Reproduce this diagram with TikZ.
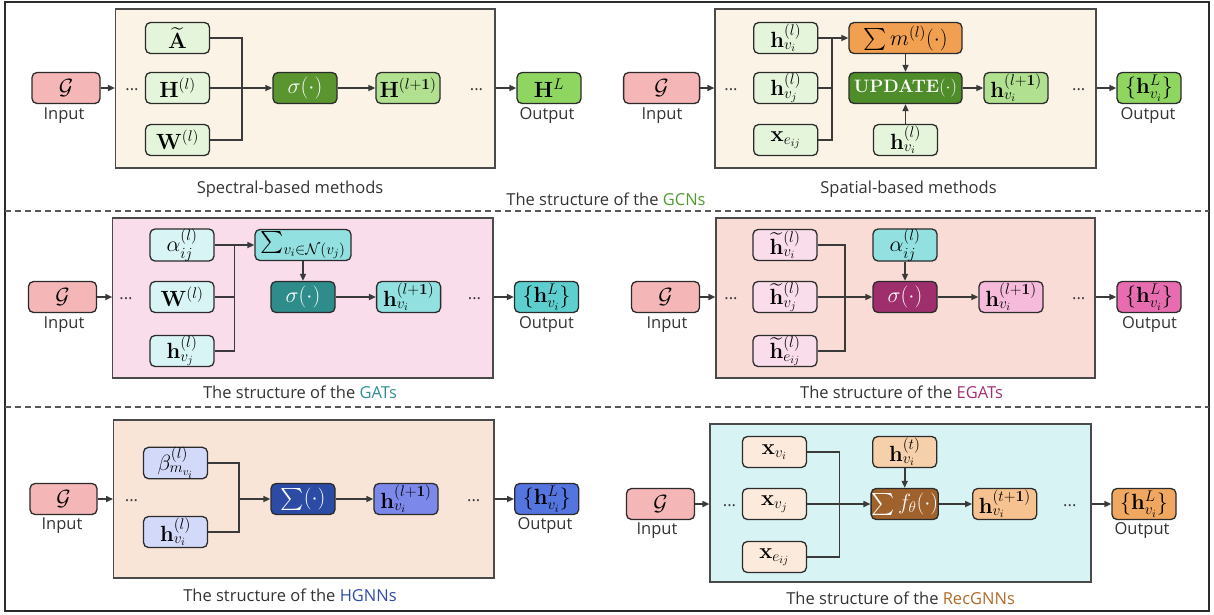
\RequirePackage{fix-cm}
\documentclass[tikz,border=0pt]{standalone}
\usepackage{amsmath,amssymb}
\usepackage[no-math]{fontspec}
\newfontfamily\labfam{Open Sans}
\usetikzlibrary{arrows.meta}
\definecolor{ndline}{HTML}{2B2B2B}
\definecolor{boxline}{HTML}{4A4A4A}
\definecolor{lnc}{HTML}{3A3A3A}
\definecolor{txt}{HTML}{333333}
\definecolor{gpink}{HTML}{F4B6B6}
% GCN
\definecolor{beige}{HTML}{FBF3E6}
\definecolor{lgreen}{HTML}{E5F5DC}
\definecolor{dgreen}{HTML}{5A9530}
\definecolor{mgreen}{HTML}{B0E090}
\definecolor{ogreen}{HTML}{8ED660}
\definecolor{orng}{HTML}{F0A050}
\definecolor{updgreen}{HTML}{4F8C2A}
\definecolor{capgreen}{HTML}{4E9A2E}
% GAT
\definecolor{gatbox}{HTML}{F9DDEA}
\definecolor{lcyan}{HTML}{D9F4F4}
\definecolor{mcyan}{HTML}{92E0E0}
\definecolor{dteal}{HTML}{2E8C8A}
\definecolor{ocyan}{HTML}{5ECFCF}
\definecolor{capteal}{HTML}{2E9090}
% EGAT
\definecolor{egatbox}{HTML}{F9DCD6}
\definecolor{lpink}{HTML}{FADDEB}
\definecolor{dmag}{HTML}{9E2F6C}
\definecolor{mpink}{HTML}{F6BADA}
\definecolor{opink}{HTML}{E86DB0}
\definecolor{capmag}{HTML}{A03070}
% HGNN
\definecolor{hgnnbox}{HTML}{F9E5D8}
\definecolor{llav}{HTML}{D3D9F8}
\definecolor{dblue}{HTML}{2B4BA5}
\definecolor{mblue}{HTML}{7C88EA}
\definecolor{oblue}{HTML}{5474E0}
\definecolor{capblue}{HTML}{2F4BAA}
% RecGNN
\definecolor{recbox}{HTML}{D8F3F3}
\definecolor{lpeach}{HTML}{FCEBDC}
\definecolor{mpeach}{HTML}{F6D0AA}
\definecolor{dbrown}{HTML}{A0622C}
\definecolor{npeach}{HTML}{F6C290}
\definecolor{opeach}{HTML}{F0A860}
\definecolor{capbrown}{HTML}{B06A25}
\newcommand\nodefs{\fontsize{22}{24}\selectfont}
\newcommand\updfs{\fontsize{18}{20}\selectfont}
\newcommand\labfs{\labfam\fontsize{16.5}{19}\selectfont}
\tikzset{
  nd/.style={draw=ndline, rounded corners=5pt, line width=1.3pt, minimum width=64pt, minimum height=31pt, inner sep=0pt, font=\nodefs},
  dk/.style={nd, text=white},
  panel/.style={draw=boxline, line width=1.1pt, inner sep=0pt},
  conn/.style={draw=lnc, line width=1.6pt},
  arr/.style={conn, -{Triangle[length=7pt,width=6pt]}},
  lbl/.style={font=\labfs, text=txt, inner sep=0pt, anchor=base},
  dts/.style={font=\labfs, text=lnc, inner sep=0pt, anchor=base},
  sep/.style={draw=lnc!85, line width=1.2pt, dash pattern=on 6pt off 4pt},
}
\begin{document}
\begin{tikzpicture}[x=1pt,y=-1pt]
\useasboundingbox (0,0) rectangle (1214,614);
\draw[draw=ndline, line width=1.5pt] (5,2) rectangle (1209,611);
\coordinate (sepAL) at (5,211); \coordinate (sepAR) at (1209,211);
\coordinate (sepBL) at (5,407); \coordinate (sepBR) at (1209,407);
\draw[sep] (sepAL) -- (sepAR);
\draw[sep] (sepBL) -- (sepBR);

% ================= Panel 1: Spectral =================
\node[panel, fill=beige, minimum width=379.5pt, minimum height=159pt] (B1) at (305.25,88.5) {};
\node[nd, fill=gpink, minimum width=68pt] (G1) at (66,88) {$\mathcal{G}$};
\node[nd, fill=lgreen] (A1) at (177.5,38) {$\widetilde{\mathbf{A}}$};
\node[nd, fill=lgreen] (H1) at (177.5,88) {$\mathbf{H}^{(l)}$};
\node[nd, fill=lgreen] (W1) at (177.5,140) {$\mathbf{W}^{(l)}$};
\coordinate (J1) at (242,88);
\node[dk, fill=dgreen] (S1) at (305,88) {$\sigma(\cdot)$};
\node[nd, fill=mgreen] (N1) at (408,88) {$\mathbf{H}^{(l+\mathbf{1})}$};
\node[nd, fill=ogreen] (O1) at (549,88) {$\mathbf{H}^{L}$};
\node[dts] (d1a) at (132,90.5) {...};
\node[dts] (d1b) at (476.5,90.5) {...};
\draw[arr] (G1.east) -- (G1.east -| B1.west);
\draw[conn] (A1.east) -| (J1);
\draw[conn] (W1.east) -| (J1);
\draw[arr] (H1.east) -- (S1.west);
\draw[arr] (S1.east) -- (N1.west);
\draw[arr] (O1.west -| B1.east) -- (O1.west);
\node[lbl] (in1) at (64,119.5) {Input};
\node[lbl] (out1) at (547,119.5) {Output};
\node[lbl] (cap1) at (290,193) {Spectral-based methods};

% ================= Panel 2: Spatial =================
\node[panel, fill=beige, minimum width=381pt, minimum height=159pt] (B2) at (905.5,88.5) {};
\node[nd, fill=gpink, minimum width=76pt] (G2) at (661.6,88) {$\mathcal{G}$};
\node[nd, fill=lgreen] (hvi2) at (785.7,38) {$\mathbf{h}^{(l)}_{v_i}$};
\node[nd, fill=lgreen] (hvj2) at (785.7,88) {$\mathbf{h}^{(l)}_{v_j}$};
\node[nd, fill=lgreen] (xe2) at (785.7,140) {$\mathbf{x}_{e_{ij}}$};
\coordinate (J2) at (832,38);
\node[nd, fill=orng, minimum width=113pt] (SM2) at (905.5,38) {$\sum m^{(l)}(\cdot)$};
\node[dk, fill=updgreen, minimum width=113pt, font=\updfs] (UP2) at (905.5,88) {$\mathbf{UPDATE}(\cdot)$};
\node[nd, fill=lgreen] (hb2) at (905.5,140) {$\mathbf{h}^{(l)}_{v_i}$};
\node[nd, fill=mgreen] (N2) at (1016,88) {$\mathbf{h}^{(l+\mathbf{1})}_{v_i}$};
\node[nd, fill=ogreen] (O2) at (1149,88) {$\{\mathbf{h}^{L}_{v_i}\}$};
\node[dts] (d2a) at (731,90.5) {...};
\node[dts] (d2b) at (1078.7,90.5) {...};
\draw[arr] (G2.east) -- (G2.east -| B2.west);
\draw[conn] (hvj2.east) -| (J2);
\draw[conn] (xe2.east) -| (J2);
\draw[arr] (hvi2.east) -- (SM2.west);
\draw[arr] (SM2.south) -- (UP2.north);
\draw[arr] (hb2.north) -- (UP2.south);
\draw[arr] (UP2.east) -- (N2.west);
\draw[arr] (O2.west -| B2.east) -- (O2.west);
\node[lbl] (in2) at (662,119.5) {Input};
\node[lbl] (out2) at (1148,119.5) {Output};
\node[lbl] (cap2) at (908.5,193) {Spatial-based methods};
\node[lbl] (gcn) at (606,205) {The structure of the \textcolor{capgreen}{GCNs}};

% ================= Panel 3: GATs =================
\node[panel, fill=gatbox, minimum width=380.2pt, minimum height=160pt] (B3) at (302.9,298) {};
\node[nd, fill=gpink, minimum width=68pt] (G3) at (62.5,297) {$\mathcal{G}$};
\node[nd, fill=lcyan] (al3) at (182,245) {$\alpha^{(l)}_{ij}$};
\node[nd, fill=lcyan] (W3) at (182,297) {$\mathbf{W}^{(l)}$};
\node[nd, fill=lcyan] (hv3) at (182,351) {$\mathbf{h}^{(l)}_{v_j}$};
\coordinate (J3) at (234.5,245);
\node[nd, fill=mcyan, minimum width=96pt] (sm3) at (303,245) {$\sum_{v_i\in\mathcal{N}(v_j)}$};
\node[dk, fill=dteal] (sg3) at (303,297) {$\sigma(\cdot)$};
\node[nd, fill=mcyan] (N3) at (408.6,297) {$\mathbf{h}^{(l+\mathbf{1})}_{v_i}$};
\node[nd, fill=ocyan] (O3) at (546.5,297) {$\{\mathbf{h}^{L}_{v_i}\}$};
\node[dts] (d3a) at (126,299.5) {...};
\node[dts] (d3b) at (474.5,299.5) {...};
\draw[arr] (G3.east) -- (G3.east -| B3.west);
\draw[conn] (W3.east) -| (J3);
\draw[conn] (hv3.east) -| (J3);
\draw[arr] (al3.east) -- (sm3.west);
\draw[arr] (sg3.north |- sm3.south) -- (sg3.north);
\draw[arr] (sg3.east) -- (N3.west);
\draw[arr] (O3.west -| B3.east) -- (O3.west);
\node[lbl] (in3) at (64,328) {Input};
\node[lbl] (out3) at (546.5,328) {Output};
\node[lbl] (cap3) at (300,398) {The structure of the \textcolor{capteal}{GATs}};

% ================= Panel 4: EGATs =================
\node[panel, fill=egatbox, minimum width=379pt, minimum height=160pt] (B4) at (905.5,298) {};
\node[nd, fill=gpink, minimum width=68pt] (G4) at (665.5,297) {$\mathcal{G}$};
\node[nd, fill=lpink] (hvi4) at (785,245) {$\widetilde{\mathbf{h}}^{(l)}_{v_i}$};
\node[nd, fill=lpink] (hvj4) at (785,297) {$\widetilde{\mathbf{h}}^{(l)}_{v_j}$};
\node[nd, fill=lpink] (he4) at (785,351) {$\widetilde{\mathbf{h}}^{(l)}_{e_{ij}}$};
\coordinate (J4) at (845,297);
\node[nd, fill=mcyan] (al4) at (905,245) {$\alpha^{(l)}_{ij}$};
\node[dk, fill=dmag] (sg4) at (905,297) {$\sigma(\cdot)$};
\node[nd, fill=mpink] (N4) at (1011,297) {$\mathbf{h}^{(l+\mathbf{1})}_{v_i}$};
\node[nd, fill=opink] (O4) at (1149,297) {$\{\mathbf{h}^{L}_{v_i}\}$};
\node[dts] (d4a) at (731,299.5) {...};
\node[dts] (d4b) at (1078.7,299.5) {...};
\draw[arr] (G4.east) -- (G4.east -| B4.west);
\draw[conn] (hvi4.east) -| (J4);
\draw[conn] (he4.east) -| (J4);
\draw[arr] (hvj4.east) -- (sg4.west);
\draw[arr] (al4.south) -- (sg4.north);
\draw[arr] (sg4.east) -- (N4.west);
\draw[arr] (O4.west -| B4.east) -- (O4.west);
\node[lbl] (in4) at (667,328) {Input};
\node[lbl] (out4) at (1149.5,328) {Output};
\node[lbl] (cap4) at (901.6,398) {The structure of the \textcolor{capmag}{EGATs}};

% ================= Panel 5: HGNNs =================
\node[panel, fill=hgnnbox, minimum width=380.4pt, minimum height=158pt] (B5) at (303.8,499) {};
\node[nd, fill=gpink, minimum width=67pt] (G5) at (63.5,499) {$\mathcal{G}$};
\node[nd, fill=llav] (be5) at (175.5,463) {$\beta^{(l)}_{m_{v_i}}$};
\node[nd, fill=llav] (hv5) at (175.5,532) {$\mathbf{h}^{(l)}_{v_i}$};
\coordinate (J5) at (239,499);
\node[dk, fill=dblue] (sg5) at (303,499) {$\sum(\cdot)$};
\node[nd, fill=mblue] (N5) at (406,499) {$\mathbf{h}^{(l+\mathbf{1})}_{v_i}$};
\node[nd, fill=oblue] (O5) at (546.7,499) {$\{\mathbf{h}^{L}_{v_i}\}$};
\node[dts] (d5a) at (131.5,501.5) {...};
\node[dts] (d5b) at (473.7,501.5) {...};
\draw[arr] (G5.east) -- (G5.east -| B5.west);
\draw[conn] (be5.east) -| (J5);
\draw[conn] (hv5.east) -| (J5);
\draw[arr] (J5) -- (sg5.west);
\draw[arr] (sg5.east) -- (N5.west);
\draw[arr] (O5.west -| B5.east) -- (O5.west);
\node[lbl] (in5) at (62,529) {Input};
\node[lbl] (out5) at (545,529) {Output};
\node[lbl] (cap5) at (290,601) {The structure of the \textcolor{capblue}{HGNNs}};

% ================= Panel 6: RecGNNs =================
\node[panel, fill=recbox, minimum width=381pt, minimum height=158pt] (B6) at (900.5,503) {};
\node[nd, fill=gpink, minimum width=68pt] (G6) at (660.5,504) {$\mathcal{G}$};
\node[nd, fill=lpeach] (xvi6) at (774.4,452) {$\mathbf{x}_{v_i}$};
\node[nd, fill=lpeach] (xvj6) at (774.4,504) {$\mathbf{x}_{v_j}$};
\node[nd, fill=lpeach] (xe6) at (774.4,557) {$\mathbf{x}_{e_{ij}}$};
\coordinate (J6) at (839.5,504);
\node[nd, fill=mpeach] (ht6) at (904.7,452) {$\mathbf{h}^{(t)}_{v_i}$};
\node[dk, fill=dbrown] (sf6) at (904.7,504) {$\sum f_\theta(\cdot)$};
\node[nd, fill=npeach] (N6) at (1004.7,504) {$\mathbf{h}^{(t+\mathbf{1})}_{v_i}$};
\node[nd, fill=opeach] (O6) at (1144,504) {$\{\mathbf{h}^{L}_{v_i}\}$};
\node[dts] (d6a) at (729.5,506.5) {...};
\node[dts] (d6b) at (1069.8,506.5) {...};
\draw[arr] (G6.east) -- (G6.east -| B6.west);
\draw[conn] (xvi6.east) -| (J6);
\draw[conn] (xe6.east) -| (J6);
\draw[arr] (xvj6.east) -- (sf6.west);
\draw[arr] (ht6.south) -- (sf6.north);
\draw[arr] (sf6.east) -- (N6.west);
\draw[arr] (O6.west -| B6.east) -- (O6.west);
\node[lbl] (in6) at (657,534) {Input};
\node[lbl] (out6) at (1142,534) {Output};
\node[lbl] (cap6) at (900.6,604) {The structure of the \textcolor{capbrown}{RecGNNs}};
\end{tikzpicture}
\end{document}
